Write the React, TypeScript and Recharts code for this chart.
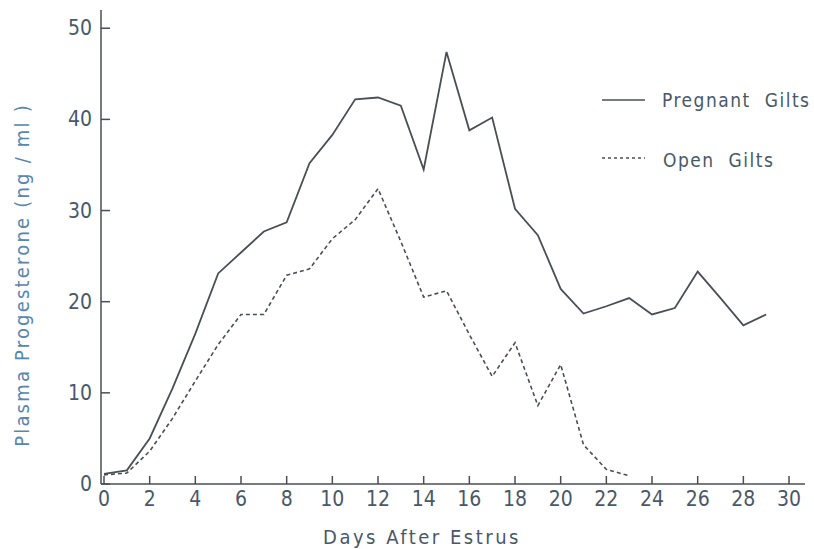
import React from 'react';
import { LineChart, Line, XAxis, YAxis, Legend } from 'recharts';

const days = [0, 1, 2, 3, 4, 5, 6, 7, 8, 9, 10, 11, 12, 13, 14, 15, 16, 17, 18, 19, 20, 21, 22, 23, 24, 25, 26, 27, 28, 29];
const pregnantGilts = [1.1, 1.5, 5.0, 10.5, 16.5, 23.1, 25.4, 27.7, 28.7, 35.2, 38.3, 42.2, 42.4, 41.5, 34.5, 47.4, 38.8, 40.2, 30.2, 27.3, 21.4, 18.7, 19.5, 20.4, 18.6, 19.3, 23.3, 20.4, 17.4, 18.6];
const openGilts = [1.0, 1.2, 3.6, 7.2, 11.3, 15.3, 18.6, 18.6, 22.9, 23.6, 26.9, 29.0, 32.4, 26.6, 20.5, 21.2, 16.4, 11.8, 15.5, 8.6, 13.1, 4.3, 1.6, 0.9];
const xTicks = [0, 2, 4, 6, 8, 10, 12, 14, 16, 18, 20, 22, 24, 26, 28, 30];
const yTicks = [0, 10, 20, 30, 40, 50];

const data = days.map((d, i) => ({
  day: d,
  pregnant: pregnantGilts[i],
  open: i < openGilts.length ? openGilts[i] : null,
}));

const FONT = "'DejaVu Sans Condensed', 'DejaVu Sans', sans-serif";
const INK = '#4a4f56';
const TEXT = '#4a5866';

const YTick = ({ x, y, payload }: any) => (
  <g>
    <line x1={x} y1={y} x2={x + 9} y2={y} stroke={INK} strokeWidth={1.5} />
    <text x={x - 9} y={y} dy={7} textAnchor="end" fill={TEXT} fontSize={21} fontFamily={FONT}>
      {payload.value}
    </text>
  </g>
);

const XTick = ({ x, y, payload }: any) => (
  <g>
    <line x1={x} y1={y} x2={x} y2={y - 8} stroke={INK} strokeWidth={1.5} />
    <text x={x} y={y} dy={22} textAnchor="middle" fill={TEXT} fontSize={21} fontFamily={FONT}>
      {payload.value}
    </text>
  </g>
);

const LegendBox = () => (
  <svg width={214} height={110} style={{ overflow: 'visible' }}>
    <line x1={2} y1={20} x2={45} y2={20} stroke={INK} strokeWidth={1.6} />
    <text x={62} y={27} fill={TEXT} fontSize={19} fontFamily={FONT} letterSpacing={1.5} style={{ whiteSpace: 'pre' }}>
      {'Pregnant  Gilts'}
    </text>
    <line x1={2} y1={78} x2={45} y2={78} stroke={INK} strokeWidth={1.4} strokeDasharray="3 3" />
    <text x={63} y={87} fill={TEXT} fontSize={19} fontFamily={FONT} letterSpacing={1.5} style={{ whiteSpace: 'pre' }}>
      {'Open  Gilts'}
    </text>
  </svg>
);

export default function App() {
  return (
    <div style={{ position: 'absolute', left: 0, top: 0, width: 814, height: 549, background: '#fff' }}>
      <LineChart width={814} height={549} data={data} margin={{ top: 10, right: 9, bottom: 35, left: 0 }}>
        <XAxis
          dataKey="day"
          type="number"
          domain={[0, 30.7]}
          ticks={xTicks}
          interval={0}
          height={30}
          padding={{ left: 3 }}
          stroke={INK}
          strokeWidth={1.5}
          tickLine={false}
          tickSize={0}
          tickMargin={0}
          tick={<XTick />}
          label={{ value: 'Days  After  Estrus', position: 'bottom', offset: 16, dx: -31, fill: TEXT, fontSize: 20, fontFamily: FONT, letterSpacing: 2.5, style: { whiteSpace: 'pre' } }}
        />
        <YAxis
          type="number"
          domain={[0, 52]}
          ticks={yTicks}
          interval={0}
          width={101}
          stroke={INK}
          strokeWidth={1.5}
          tickLine={false}
          tickSize={0}
          tickMargin={0}
          tick={<YTick />}
          label={{ value: 'Plasma  Progesterone  (ng / ml )', angle: -90, position: 'insideLeft', offset: 0, dx: 22, dy: 28, fill: '#5a85ad', fontSize: 20, fontFamily: FONT, letterSpacing: 2.2, style: { whiteSpace: 'pre', textAnchor: 'middle' } }}
        />
        <Legend
          layout="horizontal"
          verticalAlign="middle"
          align="center"
          content={<LegendBox />}
          wrapperStyle={{ position: 'absolute', left: 600, top: 80, width: 214, height: 110 }}
        />
        <Line
          dataKey="pregnant"
          type="linear"
          stroke={INK}
          strokeWidth={1.8}
          dot={false}
          isAnimationActive={false}
        />
        <Line
          dataKey="open"
          type="linear"
          stroke={INK}
          strokeWidth={1.6}
          strokeDasharray="4 3"
          dot={false}
          connectNulls={false}
          isAnimationActive={false}
        />
      </LineChart>
    </div>
  );
}
